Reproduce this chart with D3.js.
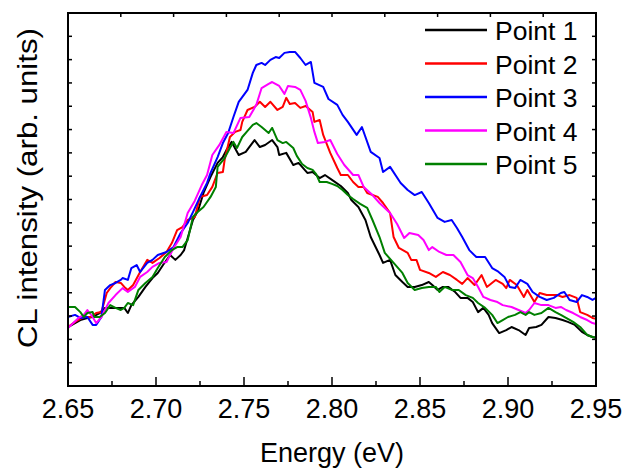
<!DOCTYPE html>
<html>
<head>
<meta charset="utf-8">
<script src="https://cdn.jsdelivr.net/npm/d3@7"></script>
<style>
  html, body { margin: 0; padding: 0; background: #fff; }
  svg { display: block; }
  text { font-family: "Liberation Sans", Arial, sans-serif; fill: #000; }
</style>
</head>
<body>
<svg id="chart" width="624" height="468"></svg>
<script>
// CL spectra: [energy (eV), intensity (arb. units)]
const point1 = [[2.650,2.53],[2.654,2.70],[2.657,2.83],[2.661,2.92],[2.664,2.96],[2.668,3.13],[2.671,3.35],[2.675,3.35],[2.678,3.35],[2.682,3.35],[2.684,3.13],[2.686,3.47],[2.690,3.82],[2.694,4.25],[2.698,4.63],[2.701,4.85],[2.704,5.19],[2.708,5.62],[2.711,5.41],[2.714,5.62],[2.716,5.83],[2.718,6.35],[2.721,7.12],[2.724,7.55],[2.727,8.28],[2.731,8.97],[2.735,9.57],[2.738,9.82],[2.740,10.12],[2.743,10.47],[2.747,9.91],[2.751,10.04],[2.753,10.25],[2.756,10.55],[2.759,10.25],[2.762,10.34],[2.766,10.55],[2.769,10.25],[2.770,9.91],[2.774,10.00],[2.778,9.48],[2.781,9.57],[2.786,9.14],[2.789,9.18],[2.793,8.92],[2.796,9.05],[2.801,8.79],[2.805,8.58],[2.809,8.28],[2.811,7.98],[2.815,7.68],[2.819,7.12],[2.822,6.39],[2.827,5.62],[2.829,5.28],[2.833,5.41],[2.836,4.76],[2.840,4.46],[2.843,4.25],[2.847,4.25],[2.851,4.33],[2.855,4.46],[2.857,4.33],[2.860,4.12],[2.863,4.25],[2.866,4.25],[2.870,4.03],[2.873,3.78],[2.877,3.78],[2.880,3.60],[2.883,3.17],[2.886,3.35],[2.889,3.05],[2.891,2.70],[2.895,2.27],[2.899,2.40],[2.902,2.53],[2.906,2.40],[2.910,2.19],[2.912,2.49],[2.916,2.53],[2.919,2.62],[2.923,2.96],[2.927,2.92],[2.931,2.83],[2.934,2.75],[2.938,2.62],[2.942,2.32],[2.945,2.19],[2.948,2.10],[2.950,2.07]];

const point2 = [[2.650,2.53],[2.654,2.75],[2.659,2.96],[2.663,2.96],[2.666,3.13],[2.669,3.17],[2.672,3.99],[2.674,4.20],[2.677,4.46],[2.680,4.42],[2.682,4.25],[2.684,4.12],[2.687,4.33],[2.691,4.89],[2.695,5.41],[2.698,5.28],[2.702,5.49],[2.706,5.75],[2.709,6.13],[2.712,6.69],[2.715,6.82],[2.718,7.12],[2.722,7.25],[2.725,8.11],[2.729,8.19],[2.732,8.54],[2.735,9.14],[2.738,9.18],[2.739,9.70],[2.742,10.68],[2.745,10.90],[2.748,10.98],[2.749,11.33],[2.752,11.84],[2.756,11.97],[2.759,12.19],[2.762,11.97],[2.765,12.19],[2.769,11.84],[2.772,11.97],[2.774,12.36],[2.776,12.10],[2.779,12.14],[2.782,11.93],[2.785,12.01],[2.789,11.75],[2.790,11.33],[2.793,11.41],[2.795,10.77],[2.799,10.00],[2.803,9.35],[2.805,9.05],[2.809,9.05],[2.812,8.75],[2.815,8.54],[2.818,8.54],[2.820,8.28],[2.826,8.11],[2.829,7.85],[2.833,7.42],[2.835,6.39],[2.838,5.92],[2.843,5.71],[2.845,5.41],[2.848,5.41],[2.850,4.98],[2.855,4.85],[2.859,4.68],[2.863,4.89],[2.867,4.76],[2.871,4.55],[2.874,4.38],[2.877,4.63],[2.881,4.33],[2.885,4.76],[2.888,4.25],[2.893,4.55],[2.897,4.38],[2.899,4.20],[2.901,4.55],[2.905,4.33],[2.909,3.82],[2.911,4.12],[2.915,3.60],[2.918,3.99],[2.922,3.90],[2.928,3.90],[2.931,3.82],[2.935,3.90],[2.939,3.78],[2.941,3.17],[2.945,3.05],[2.948,2.92],[2.950,2.88]];

const point3 = [[2.650,2.96],[2.654,3.05],[2.657,2.92],[2.661,2.96],[2.664,2.62],[2.666,2.62],[2.669,2.96],[2.671,4.12],[2.674,4.33],[2.677,4.42],[2.680,4.55],[2.681,4.63],[2.684,4.55],[2.686,5.06],[2.689,5.19],[2.691,4.89],[2.695,5.28],[2.698,5.41],[2.701,5.62],[2.706,5.75],[2.710,5.96],[2.714,6.56],[2.718,6.99],[2.721,7.46],[2.725,8.11],[2.729,8.71],[2.731,9.14],[2.735,9.82],[2.738,10.42],[2.741,10.85],[2.744,11.54],[2.747,12.19],[2.752,12.70],[2.755,13.43],[2.757,13.77],[2.760,13.86],[2.762,13.77],[2.765,13.99],[2.768,14.11],[2.770,14.07],[2.773,14.29],[2.776,14.33],[2.779,14.33],[2.782,14.07],[2.785,13.77],[2.788,13.90],[2.790,13.00],[2.795,12.83],[2.798,12.31],[2.803,12.06],[2.806,11.63],[2.809,11.33],[2.814,10.77],[2.817,11.11],[2.822,10.04],[2.827,9.78],[2.829,9.18],[2.833,9.40],[2.839,8.71],[2.843,8.41],[2.847,8.19],[2.851,8.32],[2.855,7.85],[2.860,7.21],[2.864,7.04],[2.868,7.12],[2.871,6.78],[2.874,6.39],[2.878,5.83],[2.882,5.53],[2.887,5.53],[2.891,5.06],[2.894,4.93],[2.898,4.68],[2.901,4.25],[2.904,4.20],[2.907,4.55],[2.911,4.38],[2.914,4.03],[2.918,3.82],[2.922,3.69],[2.926,3.78],[2.930,3.99],[2.932,4.03],[2.935,3.69],[2.939,3.60],[2.942,3.90],[2.945,3.82],[2.948,3.69],[2.950,3.78]];

const point4 = [[2.650,2.49],[2.653,2.70],[2.656,2.92],[2.659,3.05],[2.661,3.26],[2.664,2.96],[2.666,2.70],[2.669,2.96],[2.673,3.56],[2.677,3.90],[2.681,4.20],[2.684,4.03],[2.688,4.25],[2.691,4.68],[2.695,4.89],[2.698,5.11],[2.702,5.28],[2.706,5.32],[2.710,5.92],[2.714,6.39],[2.718,7.42],[2.722,7.94],[2.726,8.62],[2.729,9.05],[2.732,9.91],[2.736,10.34],[2.740,10.90],[2.744,10.85],[2.748,11.50],[2.753,11.54],[2.757,12.06],[2.760,12.78],[2.764,12.96],[2.766,13.04],[2.770,12.87],[2.773,12.53],[2.775,12.87],[2.779,12.83],[2.782,12.70],[2.785,12.23],[2.788,11.50],[2.790,10.90],[2.792,10.42],[2.796,10.47],[2.799,10.55],[2.803,9.95],[2.807,9.48],[2.812,9.05],[2.815,9.05],[2.818,8.54],[2.823,8.19],[2.827,7.85],[2.833,7.42],[2.837,6.95],[2.841,6.35],[2.844,6.56],[2.849,6.48],[2.852,6.26],[2.855,5.83],[2.857,5.96],[2.861,5.75],[2.865,5.62],[2.869,5.62],[2.873,5.32],[2.877,4.76],[2.880,4.63],[2.883,4.25],[2.886,3.82],[2.890,3.69],[2.894,3.60],[2.897,3.47],[2.902,3.39],[2.906,3.26],[2.910,3.13],[2.912,3.26],[2.915,3.56],[2.919,3.47],[2.923,3.47],[2.927,3.35],[2.930,3.39],[2.933,3.26],[2.937,3.13],[2.941,2.96],[2.945,2.83],[2.948,2.70],[2.950,2.66]];

const point5 = [[2.650,3.39],[2.654,3.39],[2.657,3.17],[2.659,2.96],[2.661,3.13],[2.664,3.17],[2.665,2.96],[2.668,2.96],[2.671,3.13],[2.674,3.47],[2.677,3.35],[2.680,3.26],[2.682,3.35],[2.684,3.56],[2.687,3.47],[2.690,4.12],[2.694,4.42],[2.698,4.68],[2.701,5.06],[2.705,5.53],[2.709,5.83],[2.712,5.96],[2.715,5.96],[2.718,6.26],[2.721,7.25],[2.723,7.42],[2.727,7.68],[2.731,8.11],[2.734,8.54],[2.735,9.40],[2.739,9.78],[2.742,10.21],[2.744,10.47],[2.746,10.21],[2.749,10.68],[2.752,10.94],[2.755,11.20],[2.757,11.28],[2.760,11.11],[2.764,10.85],[2.766,11.07],[2.769,10.55],[2.772,10.42],[2.774,10.47],[2.778,10.21],[2.780,9.87],[2.783,9.52],[2.786,9.35],[2.789,9.27],[2.791,9.09],[2.793,8.75],[2.797,8.75],[2.800,8.67],[2.803,8.58],[2.806,8.41],[2.809,8.19],[2.812,8.02],[2.816,7.81],[2.820,7.64],[2.823,7.12],[2.827,6.39],[2.830,5.71],[2.835,5.28],[2.840,4.85],[2.843,4.42],[2.847,4.12],[2.851,4.20],[2.855,4.25],[2.859,4.25],[2.861,4.03],[2.864,4.25],[2.868,4.12],[2.872,4.12],[2.876,3.90],[2.880,3.78],[2.883,3.56],[2.887,3.35],[2.891,3.05],[2.894,2.70],[2.897,2.83],[2.900,2.96],[2.904,3.05],[2.907,3.17],[2.910,3.05],[2.912,3.17],[2.915,3.05],[2.919,3.13],[2.923,3.35],[2.927,3.17],[2.930,3.05],[2.933,2.92],[2.937,2.75],[2.941,2.53],[2.945,2.19],[2.948,2.10],[2.950,2.08]];

const seriesNames = ["Point 1", "Point 2", "Point 3", "Point 4", "Point 5"];
const seriesColors = ["#000000", "#ff0000", "#0000ff", "#ff00ff", "#008000"];
const seriesData = [point1, point2, point3, point4, point5];

const xMajorTicks = [2.65, 2.70, 2.75, 2.80, 2.85, 2.90, 2.95];
const xTickLabels = ["2.65", "2.70", "2.75", "2.80", "2.85", "2.90", "2.95"];
const xMinorTicks = [2.675, 2.725, 2.775, 2.825, 2.875, 2.925];
const xTopTicks = [2.65, 2.68, 2.71, 2.74, 2.77, 2.80, 2.83, 2.86, 2.89, 2.92, 2.95];
const yTicks = [1, 2, 3, 4, 5, 6, 7, 8, 9, 10, 11, 12, 13, 14, 15];

const xTitle = "Energy (eV)";
const yTitle = "CL intensity (arb. units)";

const margin = { left: 68, right: 28, top: 13, bottom: 82 };
const W = 624, H = 468;
const x0 = margin.left, x1 = W - margin.right;
const y0 = H - margin.bottom, y1 = margin.top;

const x = d3.scaleLinear().domain([2.65, 2.95]).range([x0, x1]);
const y = d3.scaleLinear().domain([0, 16]).range([y0, y1]);

const svg = d3.select("#chart");

// spectra
const line = d3.line().x(d => x(d[0])).y(d => y(d[1]));
svg.append("g").selectAll("path")
  .data(seriesData)
  .join("path")
  .attr("d", line)
  .attr("fill", "none")
  .attr("stroke", (d, i) => seriesColors[i])
  .attr("stroke-width", 2)
  .attr("stroke-linejoin", "round");

// frame
svg.append("rect")
  .attr("x", x0).attr("y", y1)
  .attr("width", x1 - x0).attr("height", y0 - y1)
  .attr("fill", "none").attr("stroke", "#000").attr("stroke-width", 2);

const ticks = svg.append("g").attr("stroke", "#000").attr("stroke-width", 1.5);
// bottom major/minor ticks, pointing inward
ticks.selectAll(".xmaj").data(xMajorTicks).join("line")
  .attr("x1", d => x(d)).attr("x2", d => x(d))
  .attr("y1", y0).attr("y2", y0 - 9);
ticks.selectAll(".xmin").data(xMinorTicks).join("line")
  .attr("x1", d => x(d)).attr("x2", d => x(d))
  .attr("y1", y0).attr("y2", y0 - 5);
// top ticks
ticks.selectAll(".xtop").data(xTopTicks).join("line")
  .attr("x1", d => x(d)).attr("x2", d => x(d))
  .attr("y1", y1).attr("y2", y1 + 4);
// left and right ticks
ticks.selectAll(".yl").data(yTicks).join("line")
  .attr("x1", x0).attr("x2", x0 + 4)
  .attr("y1", d => y(d)).attr("y2", d => y(d));
ticks.selectAll(".yr").data(yTicks).join("line")
  .attr("x1", x1).attr("x2", x1 - 4)
  .attr("y1", d => y(d)).attr("y2", d => y(d));

// tick labels
svg.append("g").selectAll("text")
  .data(xMajorTicks)
  .join("text")
  .attr("x", d => x(d))
  .attr("y", y0 + 32)
  .attr("text-anchor", "middle")
  .attr("font-size", 27)
  .text((d, i) => xTickLabels[i]);

// axis titles
svg.append("text")
  .attr("x", (x0 + x1) / 2)
  .attr("y", 462)
  .attr("text-anchor", "middle")
  .attr("font-size", 27)
  .text(xTitle);

svg.append("text")
  .attr("transform", `translate(37, 188) rotate(-90)`)
  .attr("text-anchor", "middle")
  .attr("font-size", 27)
  .attr("textLength", 320)
  .attr("lengthAdjust", "spacingAndGlyphs")
  .text(yTitle);

// legend
const legend = svg.append("g").selectAll("g")
  .data(seriesNames)
  .join("g")
  .attr("transform", (d, i) => `translate(0, ${40 + i * 33.5})`);
legend.append("line")
  .attr("x1", 425).attr("x2", 487)
  .attr("y1", -10).attr("y2", -10)
  .attr("stroke", (d, i) => seriesColors[i])
  .attr("stroke-width", 2.5);
legend.append("text")
  .attr("x", 495).attr("y", 0)
  .attr("font-size", 26.5)
  .text(d => d);
</script>
</body>
</html>
